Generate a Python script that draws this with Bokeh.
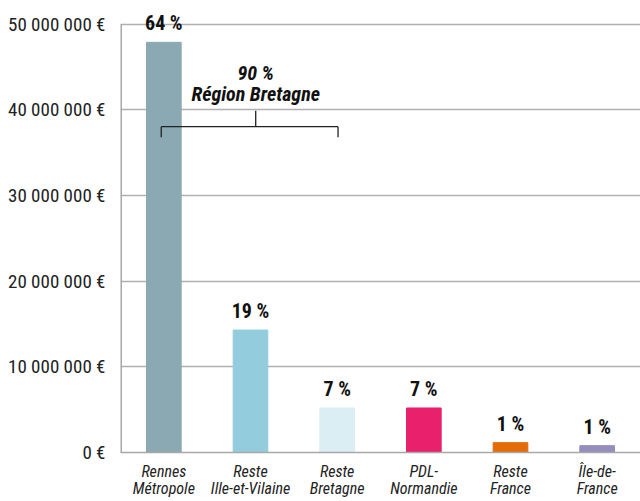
from bokeh.plotting import figure
from bokeh.models import Range1d, FixedTicker, ColumnDataSource
from bokeh.core.properties import value
from bokeh.embed import file_html
from bokeh.resources import INLINE

# ---- data ----
categories = ["Rennes\nMétropole", "Reste\nIlle-et-Vilaine", "Reste\nBretagne",
              "PDL-\nNormandie", "Reste\nFrance", "Île-de-\nFrance"]
amounts = [47_900_000, 14_300_000, 5_200_000, 5_200_000, 1_150_000, 800_000]
shares = ["64 %", "19 %", "7 %", "7 %", "1 %", "1 %"]
colors = ["#8aa9b3", "#93cddd", "#dbeef4", "#e9206b", "#e36c09", "#958dbd"]
y_ticks = [0, 10_000_000, 20_000_000, 30_000_000, 40_000_000, 50_000_000]
y_tick_labels = ["0 €", "10 000 000 €", "20 000 000 €", "30 000 000 €",
                 "40 000 000 €", "50 000 000 €"]
group_label = ["90 %", "Région Bretagne"]

FONT = "Roboto Condensed"

x_pos = [i + 0.5 for i in range(len(categories))]

p = figure(width=640, height=501, output_backend="svg", toolbar_location=None,
           x_range=Range1d(0, 6), y_range=Range1d(0, 52_784_000),
           min_border_left=120, min_border_right=0, min_border_top=0,
           min_border_bottom=46)
p.outline_line_color = None
p.background_fill_color = "white"
p.border_fill_color = "white"

# axes
p.xaxis.ticker = FixedTicker(ticks=x_pos)
p.xaxis.major_label_overrides = {x: c for x, c in zip(x_pos, categories)}
p.xaxis.major_tick_line_color = None
p.xaxis.major_tick_out = 0
p.xaxis.major_tick_in = 0
p.xaxis.minor_tick_line_color = None
p.xaxis.minor_tick_out = 0
p.xaxis.axis_line_color = "#a8a8a8"
p.xaxis.axis_line_width = 1.5
p.xaxis.major_label_standoff = 9
p.xaxis.major_label_text_font = FONT
p.xaxis.major_label_text_font_style = "italic"
p.xaxis.major_label_text_font_size = "16px"
p.xaxis.major_label_text_line_height = 0.945
p.xaxis.major_label_text_color = "#222222"

p.yaxis.ticker = FixedTicker(ticks=y_ticks)
p.yaxis.major_label_overrides = {t: l for t, l in zip(y_ticks, y_tick_labels)}
p.yaxis.major_tick_line_color = None
p.yaxis.major_tick_out = 0
p.yaxis.major_tick_in = 0
p.yaxis.minor_tick_line_color = None
p.yaxis.minor_tick_out = 0
p.yaxis.axis_line_color = None
p.yaxis.major_label_standoff = 15
p.yaxis.major_label_text_font = FONT
p.yaxis.major_label_text_font_size = "19px"
p.yaxis.major_label_text_color = "#222222"

p.xgrid.grid_line_color = None
p.ygrid.ticker = FixedTicker(ticks=y_ticks)
p.ygrid.grid_line_color = "#b0b0b0"
p.ygrid.grid_line_width = 1.5

# left axis line (only up to the top tick)
p.segment(x0=[0], y0=[0], x1=[0], y1=[y_ticks[-1]], line_color="#a8a8a8", line_width=3)

src = ColumnDataSource(dict(x=x_pos, top=amounts, color=colors, share=shares))
p.vbar(x="x", top="top", bottom=0, width=0.4, color="color", source=src)
p.text(x="x", y="top", text="share", source=src, y_offset=-19,
       text_align="center", text_baseline="alphabetic",
       text_font=value(FONT), text_font_style="bold", text_font_size="20px",
       text_color="#111111")

# bracket for the Bretagne group
bx0, bx1, bxc = 0.47, 2.51, 1.56
by, by_low, by_high = 38_050_000, 36_800_000, 39_900_000
p.segment(x0=[bx0, bx0, bx1, bxc], y0=[by, by, by, by],
          x1=[bx1, bx0, bx1, bxc], y1=[by, by_low, by_low, by_high],
          line_color="#222222", line_width=1.3)
p.text(x=[bxc, bxc], y=[44_300_000, 41_850_000], text=group_label,
       text_align="center", text_baseline="middle",
       text_font=value(FONT), text_font_style="bold italic", text_font_size="20px",
       text_color="#111111")

open("out.html", "w").write(file_html(p, INLINE))
